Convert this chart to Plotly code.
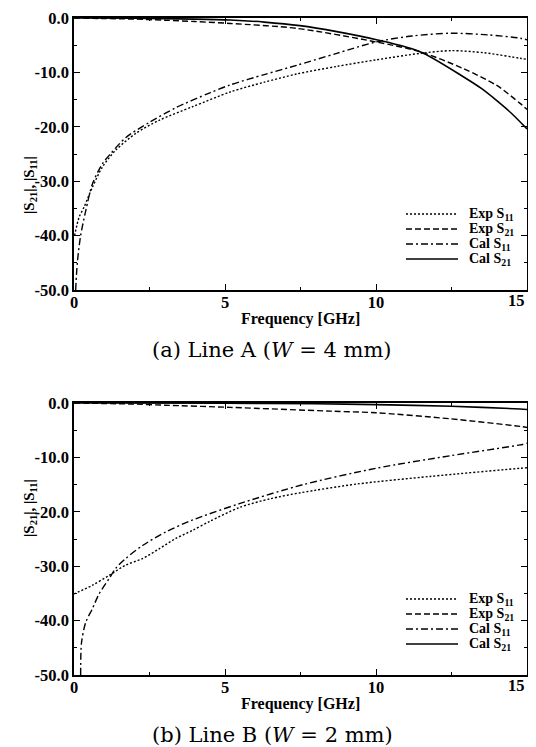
import plotly.graph_objects as go

# Line A (W = 4 mm)
a_exp_s11_f = [0.02, 0.17, 0.33, 0.61, 0.94, 1.38, 2.05, 2.82, 3.93, 5.17, 6.3, 7.37, 8.7, 10.0, 11.46, 12.5, 13.6, 14.77, 15.0]
a_exp_s11 = [-40.0, -36.6, -34.8, -31.1, -27.4, -24.3, -21.2, -18.8, -16.3, -13.6, -11.8, -10.3, -8.9, -7.7, -6.5, -6.0, -6.4, -7.4, -7.6]
a_exp_s21_f = [0.0, 1.0, 2.0, 3.0, 4.0, 5.17, 7.37, 10.0, 11.46, 12.89, 14.0, 14.77, 15.0]
a_exp_s21 = [0.0, -0.1, -0.2, -0.4, -0.65, -1.0, -1.9, -4.4, -6.2, -9.3, -12.4, -15.7, -16.8]
a_cal_s11_f = [0.055, 0.11, 0.22, 0.39, 0.61, 0.94, 1.22, 1.71, 2.49, 3.37, 4.48, 5.17, 6.3, 7.37, 8.7, 10.0, 11.2, 12.5, 13.7, 14.77, 15.0]
a_cal_s11 = [-50.0, -45.0, -40.0, -35.4, -30.5, -26.8, -24.9, -22.0, -19.2, -16.5, -13.8, -12.3, -10.4, -8.7, -6.5, -4.4, -3.3, -2.8, -3.1, -3.7, -4.0]
a_cal_s21_f = [0.0, 2.0, 4.0, 5.17, 6.3, 7.48, 8.7, 10.02, 11.46, 12.89, 13.5, 14.0, 14.5, 15.0]
a_cal_s21 = [0.0, -0.05, -0.2, -0.37, -0.75, -1.4, -2.5, -4.0, -6.2, -10.8, -13.0, -15.2, -17.6, -20.4]

# Line B (W = 2 mm)
b_exp_s11_f = [0.0, 0.61, 1.16, 1.71, 2.27, 2.82, 3.37, 3.93, 4.48, 5.48, 6.5, 7.5, 9.36, 11.79, 14.77, 15.0]
b_exp_s11 = [-35.1, -33.5, -31.7, -29.8, -28.6, -26.8, -24.9, -23.4, -21.8, -19.2, -17.6, -16.5, -14.9, -13.5, -12.0, -11.9]
b_exp_s21_f = [0.0, 2.0, 3.0, 5.17, 8.48, 10.0, 12.45, 14.77, 15.0]
b_exp_s21 = [0.0, -0.2, -0.4, -0.8, -1.5, -1.8, -2.9, -4.3, -4.5]
b_cal_s11_f = [0.22, 0.25, 0.39, 0.61, 0.83, 1.16, 1.38, 1.71, 2.27, 3.04, 3.93, 5.48, 7.59, 10.0, 12.45, 14.77, 15.0]
b_cal_s11 = [-50.0, -44.0, -40.3, -37.8, -35.1, -32.3, -30.4, -28.6, -26.2, -23.7, -21.5, -18.5, -15.0, -12.0, -9.7, -7.7, -7.4]
b_cal_s21_f = [0.0, 5.0, 8.0, 10.0, 12.5, 14.77, 15.0]
b_cal_s21 = [0.0, -0.05, -0.15, -0.3, -0.6, -1.1, -1.2]

x_ticks = [0, 5, 10, 15]
x_labels = ["0", "5", "10", "15"]
y_ticks = [0, -10, -20, -30, -40, -50]
y_labels = ["0.0", "-10.0", "-20.0", "-30.0", "-40.0", "-50.0"]

names = ["Exp S<sub>11</sub>", "Exp S<sub>21</sub>", "Cal S<sub>11</sub>", "Cal S<sub>21</sub>"]
dashes = ["2px,2px", "6px,3px", "7px,3px,2px,3px", "solid"]
widths = [1.4, 1.4, 1.4, 1.6]
captions = ["(a) Line A (<i>W</i>&nbsp;=&nbsp;4&nbsp;mm)", "(b) Line B (<i>W</i>&nbsp;=&nbsp;2&nbsp;mm)"]

panels = [
    [(a_exp_s11_f, a_exp_s11), (a_exp_s21_f, a_exp_s21), (a_cal_s11_f, a_cal_s11), (a_cal_s21_f, a_cal_s21)],
    [(b_exp_s11_f, b_exp_s11), (b_exp_s21_f, b_exp_s21), (b_cal_s11_f, b_cal_s11), (b_cal_s21_f, b_cal_s21)],
]

# the page body has an 8px margin, so the figure is drawn 8px smaller
# and every position below is given in window pixels
OFF = 8
W, H = 536 - OFF, 747 - OFF
FONT = "Liberation Serif"


def px(x):
    return (x - OFF) / W


def py(y):
    return 1 - (y - OFF) / H


fig = go.Figure()
for p, series in enumerate(panels):
    sfx = "" if p == 0 else str(p + 1)
    for (f, v), name, dash, lw in zip(series, names, dashes, widths):
        fig.add_trace(go.Scatter(
            x=f, y=v, name=name, mode="lines", line_shape="spline",
            line=dict(color="black", width=lw, dash=dash, smoothing=0.8),
            xaxis="x" + sfx, yaxis="y" + sfx, showlegend=False,
        ))

# plot areas in window pixels: (top, bottom)
areas = [(18, 290), (403, 675)]
x0, x1 = 74, 527

tick_font = dict(family=FONT, size=16.5, color="black", weight="bold")
axis_common = dict(
    showline=True, linecolor="black", linewidth=1.6, mirror="ticks",
    ticks="inside", ticklen=6, tickwidth=1.2, tickcolor="black",
    showgrid=False, zeroline=False, automargin=False,
    tickfont=tick_font,
)

layout = dict(
    template="none", width=W, height=H, paper_bgcolor="white", plot_bgcolor="white",
    margin=dict(l=0, r=0, t=0, b=0), showlegend=False,
)
annotations = []
shapes = []
legend_rows = [76, 61, 46, 31]
for p, (top, bot) in enumerate(areas):
    sfx = "" if p == 0 else str(p + 1)
    layout["xaxis" + sfx] = dict(
        axis_common, domain=[px(x0), px(x1)], range=[0, 15],
        # the last label sits flush with the right edge, drawn as an annotation
        tickvals=x_ticks, ticktext=x_labels[:-1] + [""], ticklabelstandoff=-4,
        anchor="y" + sfx,
        minor=dict(dtick=2.5, ticks="inside", ticklen=3, tickcolor="black"),
    )
    layout["yaxis" + sfx] = dict(
        axis_common, domain=[py(bot), py(top)], range=[-50, 0],
        tickvals=y_ticks, ticktext=y_labels, anchor="x" + sfx,
        minor=dict(dtick=5, ticks="inside", ticklen=3, tickcolor="black"),
    )
    annotations.append(dict(
        text=x_labels[-1], xref="x" + sfx, yref="y" + sfx,
        x=x_ticks[-1], y=-50, xanchor="right", yanchor="middle", yshift=-10,
        showarrow=False, font=tick_font,
    ))
    # legend drawn in the lower right corner of each panel
    for name, dash, lw, dy in zip(names, dashes, widths, legend_rows):
        yy = py(bot - dy)
        shapes.append(dict(
            type="line", xref="paper", yref="paper",
            x0=px(406), x1=px(458), y0=yy, y1=yy,
            line=dict(color="black", width=lw, dash=dash),
        ))
        annotations.append(dict(
            text=name, xref="paper", yref="paper", x=px(467), y=yy,
            xanchor="left", yanchor="middle", showarrow=False,
            font=dict(family=FONT, size=14, color="black", weight="bold"),
        ))
    annotations.append(dict(
        text="Frequency [GHz]", xref="paper", yref="paper",
        x=px((x0 + x1) / 2), y=py(bot + 29), yanchor="middle", showarrow=False,
        font=dict(family=FONT, size=16, color="black", weight="bold"),
    ))
    annotations.append(dict(
        text="|S<sub>21</sub>|, |S<sub>11</sub>|", xref="paper", yref="paper",
        x=px(19), y=py((top + bot) / 2), textangle=-90, showarrow=False,
        font=dict(family=FONT, size=15, color="black", weight="bold"),
    ))
    annotations.append(dict(
        text=captions[p], xref="paper", yref="paper",
        x=px(272), y=py(bot + 60), yanchor="middle", showarrow=False,
        font=dict(family="DejaVu Serif", size=21, color="black"),
    ))
layout["annotations"] = annotations
layout["shapes"] = shapes
fig.update_layout(**layout)

fig.write_html("out.html")
